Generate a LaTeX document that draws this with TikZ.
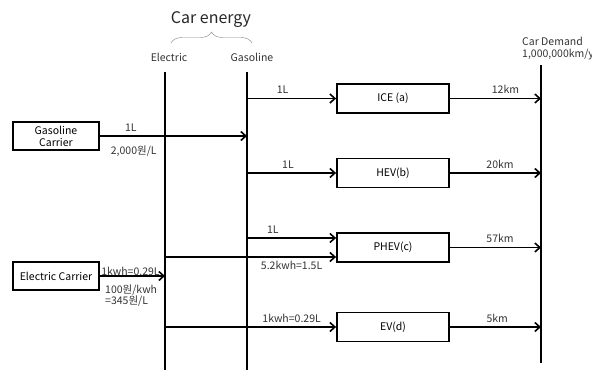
\documentclass[tikz,border=0pt]{standalone}
\usepackage{fontspec}
\setmainfont{Noto Sans CJK KR}
\usetikzlibrary{positioning,arrows.meta,decorations.pathreplacing}

\begin{document}
\begin{tikzpicture}[x=1pt, y=-1pt,
    box/.style={draw, line width=1.8pt, minimum width=86pt, minimum height=28pt, align=center, inner sep=1pt, font=\fontsize{10.5}{12}\selectfont},
    car/.style={box, minimum width=112pt, minimum height=29pt},
    arrow/.style={-{Straight Barb[length=5pt,width=9pt,line width=1.6pt]}, line width=1.7pt},
    bus/.style={line width=2pt},
    lbl/.style={font=\fontsize{10.5}{12}\selectfont, inner sep=1pt, text=black!80},
]
\useasboundingbox (0,0) rectangle (592,370);

% energy buses
\coordinate (elec) at (165,72);
\coordinate (elec-end) at (165,370);
\coordinate (gas) at (247,72);
\coordinate (gas-end) at (247,370);
\coordinate (dem) at (541,65);
\coordinate (dem-end) at (541,363);
\draw[bus] (elec) -- (elec-end);
\draw[bus] (gas) -- (gas-end);
\draw[bus] (dem) -- (dem-end);

\node[lbl] (elec-lbl) at (169,57) {Electric};
\node[lbl] (gas-lbl) at (252,57) {Gasoline};
\coordinate (br-l) at (171,43);
\coordinate (br-r) at (252,43);
\draw[gray, decorate, decoration={brace, amplitude=11pt}] (br-l) -- (br-r);
\node[font=\fontsize{16}{18}\selectfont, text=black!85] (title) at (211,20) {Car energy};
\node[lbl, anchor=north west, align=left] (demand) at (521,36) {Car Demand\\1,000,000km/y};

% carriers
\node[box] (gc) at (56,136) {Gasoline\\Carrier};
\node[box] (ec) at (56,276) {Electric Carrier};
\draw[arrow] (gc) -- (gc -| gas)
    node[lbl, above=3pt, pos=.21] {1L}
    node[lbl, below=8pt, pos=.23] {2,000원/L};
\draw[arrow] (ec) -- (ec -| elec)
    node[lbl, above=-1pt, pos=.47] {1kwh=0.29L};
\node[lbl, align=left, anchor=north west, font=\fontsize{10.5}{10.6}\selectfont] (ec-cost) at (104,284) {100원/kwh\\=345원/L};

% cars
\node[car] (ice) at (393,98.5) {ICE (a)};
\node[car] (hev) at (393,173) {HEV(b)};
\node[car] (phev) at (393,247.5) {PHEV(c)};
\node[car] (ev) at (393,327) {EV(d)};

\draw[arrow] (ice -| gas) -- (ice) node[lbl, above=3pt, pos=.4] {1L};
\draw[arrow] (hev -| gas) -- (hev) node[lbl, above=3pt, pos=.46] {1L};
\draw[arrow] ([yshift=9.5pt]phev.west -| gas) -- ([yshift=9.5pt]phev.west) node[lbl, above=3pt, pos=.29] {1L};
\draw[arrow] ([yshift=-9.5pt]phev.west -| elec) -- ([yshift=-9.5pt]phev.west) node[lbl, below=2pt, pos=.74] {5.2kwh=1.5L};
\draw[arrow] (ev -| elec) -- (ev) node[lbl, above=3pt, pos=.74] {1kwh=0.29L};

\draw[arrow] (ice) -- (ice -| dem) node[lbl, above=3pt, pos=.61] {12km};
\draw[arrow] (hev) -- (hev -| dem) node[lbl, above=3pt, pos=.55] {20km};
\draw[arrow] (phev) -- (phev -| dem) node[lbl, above=3pt, pos=.55] {57km};
\draw[arrow] (ev) -- (ev -| dem) node[lbl, above=3pt, pos=.52] {5km};
\end{tikzpicture}
\end{document}
